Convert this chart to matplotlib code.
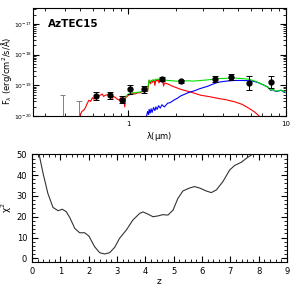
import numpy as np
import matplotlib
matplotlib.use('Agg')
import matplotlib.pyplot as plt
from matplotlib.ticker import MultipleLocator, LogLocator, NullFormatter, FixedLocator

# photometry (wavelength in micron, log10 flux, error in dex)
phot_lam = [0.63, 0.77, 0.91, 1.03, 1.26, 1.65, 2.16, 3.57, 4.5, 5.8, 8.0]
phot_logf = [-19.35, -19.32, -19.46, -19.13, -19.13, -18.80, -18.86, -18.78, -18.74, -18.92, -18.88]
phot_err = [0.12, 0.12, 0.12, 0.14, 0.12, 0.06, 0.05, 0.10, 0.10, 0.22, 0.20]

# upper limits
ul_lam = [0.385, 0.49]
ul_logf = [-19.30, -19.52]

# stellar component
red_lam = [0.494, 0.51, 0.53, 0.54, 0.55, 0.566, 0.58, 0.595, 0.61, 0.62, 0.64, 0.66, 0.688,
           0.70, 0.72, 0.745, 0.77, 0.785, 0.796, 0.81, 0.836, 0.85, 0.878, 0.90, 0.92, 0.94,
           0.953, 0.965, 0.98, 1.02, 1.07, 1.11, 1.15, 1.19, 1.23, 1.27, 1.30, 1.33, 1.36,
           1.39, 1.41, 1.43, 1.46, 1.48, 1.50, 1.53, 1.55, 1.57, 1.60, 1.62, 1.65, 1.68,
           1.70, 1.78, 1.9, 2.16, 2.5, 2.89, 3.3, 3.69, 4.2, 4.70, 5.3, 5.85, 6.31, 6.78]
red_logf = [-20.0, -19.85, -19.78, -19.70, -19.60, -19.48, -19.52, -19.40, -19.45, -19.38,
            -19.37, -19.33, -19.28, -19.36, -19.32, -19.30, -19.26, -19.30, -19.42, -19.36,
            -19.40, -19.44, -19.48, -19.40, -19.42, -19.38, -19.70, -19.40, -19.37, -19.30,
            -19.26, -19.28, -19.24, -19.24, -19.20, -19.18, -19.10, -19.20, -18.84, -18.95,
            -18.84, -18.90, -18.82, -19.00, -18.82, -18.86, -18.80, -18.92, -18.80, -18.84,
            -18.82, -19.02, -18.92, -18.95, -19.02, -19.13, -19.22, -19.32, -19.37, -19.42,
            -19.47, -19.53, -19.62, -19.75, -19.86, -20.0]

# dust component
blue_lam = [1.31, 1.33, 1.35, 1.36, 1.38, 1.40, 1.42, 1.45, 1.48, 1.50, 1.53, 1.56, 1.60,
            1.64, 1.70, 1.78, 1.85, 1.95, 2.05, 2.16, 2.3, 2.45, 2.62, 2.8, 3.0, 3.19, 3.4,
            3.69, 4.2, 4.70, 5.3, 6.0, 6.6, 7.3, 7.7, 8.0, 8.3, 8.6, 9.0, 9.3, 10.0]
blue_logf = [-20.0, -19.85, -19.95, -19.78, -19.90, -19.76, -19.88, -19.72, -19.82, -19.70,
             -19.78, -19.66, -19.74, -19.63, -19.70, -19.58, -19.56, -19.48, -19.42, -19.34,
             -19.28, -19.22, -19.18, -19.12, -19.07, -19.03, -18.97, -18.90, -18.86, -18.84,
             -18.84, -18.85, -18.90, -19.00, -19.06, -19.16, -19.14, -19.20, -19.18, -19.16,
             -19.24]

# total model
green_lam = [0.92, 0.98, 1.02, 1.07, 1.11, 1.15, 1.19, 1.23, 1.27, 1.30, 1.33, 1.36, 1.39,
             1.43, 1.47, 1.50, 1.57, 1.65, 1.8, 2.0, 2.16, 2.4, 2.6, 2.89, 3.2, 3.69, 4.2,
             4.70, 5.3, 5.85, 6.5, 7.3, 7.7, 8.0, 8.3, 8.6, 9.0, 9.3, 10.0]
green_logf = [-19.40, -19.34, -19.26, -19.24, -19.24, -19.22, -19.22, -19.19, -19.16, -19.08,
              -19.15, -18.82, -18.88, -18.82, -18.84, -18.80, -18.80, -18.82, -18.84, -18.86,
              -18.87, -18.85, -18.86, -18.84, -18.82, -18.78, -18.77, -18.76, -18.78, -18.80,
              -18.88, -19.00, -19.06, -19.15, -19.13, -19.19, -19.17, -19.15, -19.23]

# y tick labels of the SED panel
sed_yticks = [1e-20, 1e-19, 1e-18, 1e-17]
sed_ylabels = [r'$10^{-20}$', r'$10^{-19}$', r'$10^{-18}$', r'$10^{-17}$']

# chi^2 vs redshift
z_vals = [0.25, 0.39, 0.56, 0.74, 0.92, 1.07, 1.21, 1.33, 1.51, 1.68, 1.86, 2.01, 2.21,
          2.39, 2.56, 2.74, 2.92, 3.09, 3.33, 3.56, 3.80, 3.92, 4.09, 4.27, 4.45, 4.62,
          4.80, 4.98, 5.15, 5.33, 5.56, 5.74, 5.92, 6.15, 6.33, 6.51, 6.74, 6.98, 7.15,
          7.39, 7.62, 7.78]
chi2_vals = [50.0, 40.9, 31.2, 24.5, 22.9, 23.6, 22.4, 19.7, 14.4, 12.3, 12.3, 10.7, 5.6,
             2.7, 2.1, 2.7, 5.3, 9.6, 13.6, 18.4, 21.6, 22.3, 21.3, 20.0, 20.4, 21.0, 20.8,
             23.2, 28.8, 32.4, 33.8, 34.5, 33.8, 32.4, 31.6, 32.9, 36.9, 42.5, 44.6, 46.2,
             48.6, 50.0]

plt.rcParams['font.family'] = 'DejaVu Sans'
plt.rcParams['font.size'] = 6
plt.rcParams['mathtext.default'] = 'regular'

fig = plt.figure(figsize=(3.02, 2.94), dpi=100)
ax1 = fig.add_axes([0.109, 0.605, 0.838, 0.368])
ax2 = fig.add_axes([0.106, 0.110, 0.844, 0.365])

tf = lambda v: [10.0 ** x for x in v]

ax1.plot(red_lam, tf(red_logf), color='red', lw=0.8)
ax1.plot(blue_lam, tf(blue_logf), color='blue', lw=0.8)
ax1.plot(green_lam, tf(green_logf), color='#00e000', lw=0.8)

f = np.array(phot_logf)
e = np.array(phot_err)
yerr = [10 ** f - 10 ** (f - e), 10 ** (f + e) - 10 ** f]
ax1.errorbar(phot_lam, 10 ** f, yerr=yerr, fmt='o', color='black', ms=3.5,
             elinewidth=0.7, capsize=2, capthick=0.7, zorder=5)

ax1.vlines(ul_lam, 1e-20, tf(ul_logf), color='gray', lw=0.7)
ax1.hlines(tf(ul_logf), [l / 1.04 for l in ul_lam], [l * 1.04 for l in ul_lam],
           color='gray', lw=0.7)

ax1.set_xscale('log')
ax1.set_yscale('log')
ax1.set_xlim(0.25, 10)
ax1.set_ylim(1e-20, 10 ** -16.48)
ax1.set_xticks([1, 10])
ax1.set_xticklabels(['1', '10'])
ax1.xaxis.set_minor_formatter(NullFormatter())
ax1.set_yticks(sed_yticks)
ax1.set_yticklabels(sed_ylabels)
ax1.yaxis.set_minor_locator(LogLocator(base=10, subs=np.arange(2, 10), numticks=10))
ax1.yaxis.set_minor_formatter(NullFormatter())
ax1.tick_params(which='both', direction='in', top=True, right=True, labelsize=5)
ax1.tick_params(axis='y', pad=0.5, labelsize=4.3)
ax1.tick_params(which='major', length=4)
ax1.tick_params(which='minor', length=2)
ax1.set_xlabel(r'$\lambda(\mu$m)', fontsize=6, labelpad=2)
ax1.set_ylabel(r'F$_\lambda$ (erg/cm$^2$/s/$\AA$)', fontsize=6)
ax1.yaxis.set_label_coords(-0.074, 0.42)
ax1.text(0.06, 0.90, 'AzTEC15', transform=ax1.transAxes, fontsize=7.5,
         fontweight='bold', va='top')

ax2.plot(z_vals, chi2_vals, color='#333333', lw=0.8)
ax2.set_xlim(0, 9)
ax2.set_ylim(-1.6, 50)
ax2.xaxis.set_major_locator(MultipleLocator(1))
ax2.xaxis.set_minor_locator(MultipleLocator(0.2))
ax2.yaxis.set_major_locator(FixedLocator([0, 10, 20, 30, 40, 50]))
ax2.yaxis.set_minor_locator(MultipleLocator(2))
ax2.tick_params(which='both', direction='in', top=True, right=True, labelsize=6)
ax2.tick_params(which='major', length=4)
ax2.tick_params(which='minor', length=2)
ax2.set_xlabel('z', fontsize=6.5, labelpad=1)
ax2.set_ylabel(r'$\chi^2$', fontsize=6.5, labelpad=2)

fig.savefig('out.png', dpi=100)
